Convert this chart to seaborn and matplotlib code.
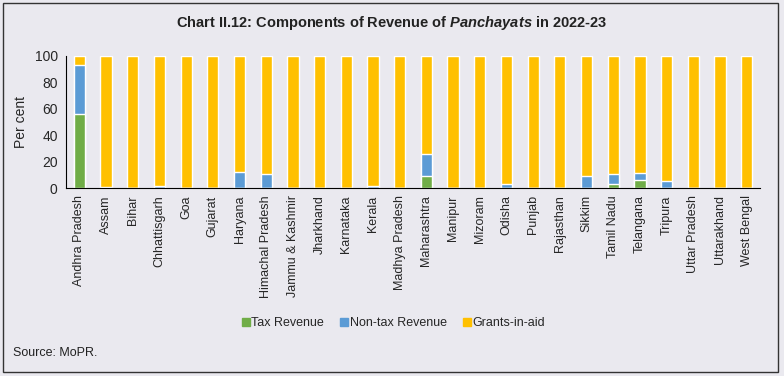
import numpy as np
import pandas as pd
import matplotlib
matplotlib.use('Agg')
import matplotlib.pyplot as plt
import seaborn as sns
from matplotlib.patches import Patch, Rectangle

# ============ DATA =============
states = ['Andhra Pradesh', 'Assam', 'Bihar', 'Chhattisgarh', 'Goa', 'Gujarat', 'Haryana',
          'Himachal Pradesh', 'Jammu & Kashmir', 'Jharkhand', 'Karnataka', 'Kerala',
          'Madhya Pradesh', 'Maharashtra', 'Manipur', 'Mizoram', 'Odisha', 'Punjab',
          'Rajasthan', 'Sikkim', 'Tamil Nadu', 'Telangana', 'Tripura', 'Uttar Pradesh',
          'Uttarakhand', 'West Bengal']
tax = [56, 0, 0, 0, 0, 0, 0, 0, 0, 0, 0, 0, 0, 9, 0, 0, 0, 0, 0, 0, 3.5, 6.5, 0.3, 0, 0.3, 0]
non_tax = [37, 1, 0, 2, 0, 0.3, 12, 10.5, 0.3, 0.3, 0, 1.5, 0, 17, 0, 0, 3, 0, 0, 9.5, 7.5, 5, 5.5, 0, 0.3, 0]
grants = [7, 99, 100, 98, 100, 99.7, 88, 89.5, 99.7, 99.7, 100, 98.5, 100, 74, 100, 100, 97, 100,
          100, 90.5, 89, 88.5, 94.2, 100, 99.4, 100]

df = pd.DataFrame({'state': states, 'tax': tax, 'non_tax': non_tax, 'grants': grants})
df['lvl1'] = df['tax']
df['lvl2'] = df['tax'] + df['non_tax']
df['lvl3'] = df['lvl2'] + df['grants']

c_tax, c_non, c_grant = '#70AD47', '#5B9BD5', '#FFC000'
bg = '#EAE9EF'

# ============ PLOT =============
sns.set_style('white')
plt.rcParams['font.family'] = ['Liberation Sans', 'DejaVu Sans']
plt.rcParams['mathtext.fontset'] = 'custom'
plt.rcParams['mathtext.it'] = 'Liberation Sans:italic:bold'

fig = plt.figure(figsize=(7.84, 3.76), dpi=100, facecolor=bg)
ax = fig.add_axes([0.0842, 0.499, 0.8852, 0.353])
ax.set_facecolor(bg)

bw = 0.42
sns.barplot(data=df, x='state', y='lvl3', color=c_grant, width=bw, saturation=1, ax=ax)
sns.barplot(data=df, x='state', y='lvl2', color=c_non, width=bw, saturation=1, ax=ax)
sns.barplot(data=df, x='state', y='lvl1', color=c_tax, width=bw, saturation=1, ax=ax)

ax.set_xlim(-0.5, len(states) - 0.5)
ax.set_ylim(0, 100)
ax.set_yticks(np.arange(0, 101, 20))
ax.set_xlabel('')
ax.set_ylabel('Per cent', fontsize=10)
ax.yaxis.set_label_coords(-0.055, 0.5)

ax.set_xticks(range(len(states)))
ax.set_xticklabels(states, rotation=90, fontsize=9)
ax.set_xticks(np.arange(-0.5, len(states), 1), minor=True)
ax.tick_params(axis='x', which='major', length=0, pad=5)
ax.tick_params(axis='x', which='minor', length=4, width=0.8, direction='out', color='black')
ax.tick_params(axis='y', length=4, width=0.8, direction='out', labelsize=10, pad=2, color='black')

sns.despine(ax=ax, top=True, right=True)
for s in ['left', 'bottom']:
    ax.spines[s].set_color('black')
    ax.spines[s].set_linewidth(0.8)

fig.text(0.5, 0.94,
         r'Chart II.12: Components of Revenue of $\mathit{Panchayats}$ in 2022-23',
         ha='center', va='center', fontsize=10.5, fontweight='bold', color='#222222')

handles = [Patch(color=c_tax, label='Tax Revenue'),
           Patch(color=c_non, label='Non-tax Revenue'),
           Patch(color=c_grant, label='Grants-in-aid')]
fig.legend(handles=handles, loc='center', bbox_to_anchor=(0.502, 0.141), ncol=3,
           frameon=False, fontsize=9, handlelength=0.6, handleheight=0.6,
           handletextpad=0.15, columnspacing=1.3)

fig.text(0.016, 0.061, 'Source: MoPR.', fontsize=9, ha='left', va='center', color='#222222')

fig.patches.append(Rectangle((0.004, 0.011), 0.988, 0.982, transform=fig.transFigure,
                             fill=False, edgecolor='#333333', linewidth=1.0))

plt.savefig('out.png', dpi=100, facecolor=bg)
